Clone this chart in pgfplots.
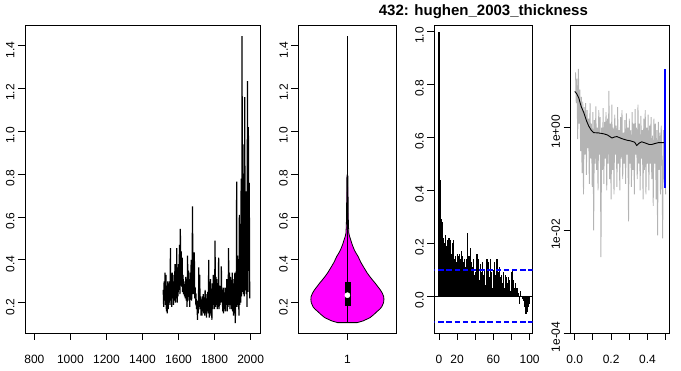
\documentclass[border=0pt]{standalone}
\usepackage{pgfplots}
\pgfplotsset{compat=1.18}
\usepackage{fontspec}
\setmainfont{Liberation Sans}
\definecolor{rgray}{RGB}{180,180,180}
\definecolor{rmag}{RGB}{255,0,255}
\definecolor{rblue}{RGB}{0,0,255}
\pgfplotsset{rstyle/.style={
  scale only axis, height=308pt,
  axis line style={line width=0.9pt},
  every tick/.style={black, line width=0.9pt},
  tick align=outside, major tick length=7pt,
  xtick pos=left, ytick pos=left,
  ticklabel style={font=\fontsize{12}{12}\selectfont},
  /pgf/number format/assume math mode=true,
  xticklabel style={yshift=-12pt},
  yticklabel style={rotate=90, anchor=south, xshift=-4pt},
  clip=true,
}}
\begin{document}
\begin{tikzpicture}[x=1pt,y=1pt]
\path[use as bounding box] (0,0) rectangle (681,371);
\node[font=\bfseries\fontsize{15}{15}\selectfont] at (483.4,359.5) {432: hughen\_2003\_thickness};

% Panel 1: time series
\begin{axis}[rstyle, at={(25pt,38pt)}, anchor=south west, width=235pt,
  xmin=748, xmax=2052, ymin=0.0585, ymax=1.497,
  xtick={800,1000,1200,1400,1600,1800,2000},
  xticklabels={800,1000,1200,1400,1600,1800,2000},
  ytick={0.2,0.4,0.6,0.8,1.0,1.2,1.4},
  yticklabels={0.2,0.4,0.6,0.8,1.0,1.2,1.4}]
\addplot[black, line width=1.2pt] table {
1515 0.26
1517.5 0.18
1520 0.30
1522.5 0.21
1525 0.34
1527.5 0.19
1530 0.33
1532.5 0.16
1535 0.28
1537.5 0.15
1540 0.30
1542.5 0.17
1545 0.29
1547.5 0.20
1550 0.30
1552.5 0.19
1555 0.455
1557.5 0.21
1560 0.33
1562.5 0.18
1565 0.34
1567.5 0.22
1570 0.30
1572.5 0.19
1575 0.33
1577.5 0.21
1580 0.38
1582.5 0.20
1585 0.30
1587.5 0.22
1590 0.455
1592.5 0.20
1595 0.36
1597.5 0.23
1600 0.38
1602.5 0.26
1605 0.47
1607.5 0.24
1610 0.545
1612.5 0.28
1615 0.44
1617.5 0.275
1620 0.41
1622.5 0.25
1625 0.33
1627.5 0.24
1630 0.30
1632.5 0.23
1635 0.28
1637.5 0.22
1640 0.32
1642.5 0.21
1645 0.30
1647.5 0.18
1650 0.42
1652.5 0.23
1655 0.35
1657.5 0.21
1660 0.31
1662.5 0.18
1665 0.34
1667.5 0.22
1670 0.40
1672.5 0.21
1675 0.30
1677.5 0.65
1680 0.24
1682.5 0.40
1685 0.24
1687.5 0.435
1690 0.22
1692.5 0.27
1695 0.21
1697.5 0.22
1700 0.17
1702.5 0.21
1705 0.12
1707.5 0.20
1710 0.15
1712.5 0.365
1715 0.18
1717.5 0.33
1720 0.17
1722.5 0.23
1725 0.14
1727.5 0.21
1730 0.14
1732.5 0.23
1735 0.16
1737.5 0.24
1740 0.15
1742.5 0.22
1745 0.14
1747.5 0.26
1750 0.15
1752.5 0.24
1755 0.13
1757.5 0.22
1760 0.16
1762.5 0.25
1765 0.15
1767.5 0.40
1770 0.13
1772.5 0.25
1775 0.15
1777.5 0.31
1780 0.14
1782.5 0.26
1785 0.12
1787.5 0.29
1790 0.17
1792.5 0.33
1795 0.19
1797.5 0.31
1800 0.17
1802.5 0.49
1805 0.18
1807.5 0.32
1810 0.19
1812.5 0.31
1815 0.17
1817.5 0.26
1820 0.18
1822.5 0.41
1825 0.17
1827.5 0.28
1830 0.19
1832.5 0.26
1835 0.20
1837.5 0.37
1840 0.21
1842.5 0.26
1845 0.16
1847.5 0.27
1850 0.15
1852.5 0.24
1855 0.17
1857.5 0.27
1860 0.16
1862.5 0.25
1865 0.19
1867.5 0.31
1870 0.16
1872.5 0.27
1875 0.18
1877.5 0.455
1880 0.19
1882.5 0.34
1885 0.17
1887.5 0.32
1890 0.19
1892.5 0.25
1895 0.17
1897.5 0.34
1900 0.16
1902.5 0.29
1905 0.14
1907.5 0.31
1910 0.15
1912.5 0.34
1915 0.105
1917.5 0.27
1920 0.18
1921 0.40
1922.5 0.765
1924 0.30
1925 0.19
1926 0.35
1927.5 0.42
1929 0.25
1930 0.18
1931 0.33
1932.5 0.36
1934 0.22
1935 0.14
1936 0.40
1937.5 0.61
1939 0.28
1940 0.19
1941 0.45
1942.5 0.36
1944 0.25
1945 0.20
1946 0.55
1947.5 0.78
1949 0.40
1950 0.23
1951 0.60
1952.5 1.445
1954 0.50
1955 0.25
1956 0.62
1957.5 0.94
1959 0.45
1960 0.24
1961 0.55
1962.5 0.70
1964 0.40
1965 0.23
1966 0.60
1967.5 1.16
1969 0.48
1970 0.26
1971 0.58
1972.5 0.68
1974 0.35
1975 0.24
1976 0.50
1977.5 0.72
1979 0.42
1980 0.18
1981 0.65
1982.5 1.235
1984 0.45
1985 0.25
1986 0.60
1987.5 1.02
1989 0.55
1990 0.39
1991 0.62
1992.5 0.76
1994 0.40
1995 0.22
};
\end{axis}

% Panel 2: violin
\begin{axis}[rstyle, at={(298.3pt,38pt)}, anchor=south west, width=98.2pt,
  xmin=0.5, xmax=1.5, ymin=0.0585, ymax=1.497,
  xtick={1}, xticklabels={1},
  ytick={0.2,0.4,0.6,0.8,1.0,1.2,1.4},
  yticklabels={0.2,0.4,0.6,0.8,1.0,1.2,1.4}]
\addplot[fill=rmag, draw=black, line width=0.8pt] coordinates {
(1.100,0.107)(1.160,0.115)(1.230,0.130)(1.270,0.145)(1.300,0.158)(1.330,0.170)
(1.350,0.181)(1.368,0.200)(1.372,0.215)(1.370,0.228)(1.355,0.245)(1.335,0.260)
(1.310,0.275)(1.285,0.290)(1.258,0.305)(1.230,0.321)(1.200,0.340)(1.163,0.368)
(1.135,0.390)(1.110,0.415)(1.090,0.430)(1.071,0.446)(1.050,0.470)(1.034,0.493)
(1.022,0.510)(1.015,0.524)(1.011,0.560)(1.009,0.600)(1.007,0.700)(1.005,0.790)
(1.000,0.800)
(0.995,0.790)(0.993,0.700)(0.991,0.600)(0.989,0.560)(0.985,0.524)(0.978,0.510)
(0.966,0.493)(0.950,0.470)(0.929,0.446)(0.910,0.430)(0.890,0.415)(0.865,0.390)
(0.837,0.368)(0.800,0.340)(0.770,0.321)(0.742,0.305)(0.715,0.290)(0.690,0.275)
(0.665,0.260)(0.645,0.245)(0.630,0.228)(0.628,0.215)(0.632,0.200)(0.650,0.181)
(0.670,0.170)(0.700,0.158)(0.730,0.145)(0.770,0.130)(0.840,0.115)(0.900,0.107)
} --cycle;
\addplot[black, line width=0.8pt] coordinates {(1,0.107)(1,1.445)};
\addplot[fill=black, draw=black] coordinates {(0.975,0.19)(1.025,0.19)(1.025,0.295)(0.975,0.295)} --cycle;
\addplot[only marks, mark=*, mark size=2.6pt, color=white] coordinates {(1,0.235)};
\end{axis}

% Panel 3: ACF
\begin{axis}[rstyle, at={(434.3pt,38pt)}, anchor=south west, width=98.4pt,
  xmin=-5.2, xmax=103.4, ymin=-0.14, ymax=1.025,
  xtick={0,20,40,60,80,100}, xticklabels={0,20,,60,,100},
  ytick={0,0.2,0.4,0.6,0.8,1.0},
  yticklabels={0.0,0.2,0.4,0.6,0.8,1.0}]
\addplot[ycomb, black, line width=1.2pt] table {
0 1.0
1 0.44
2 0.32
3 0.29
4 0.28
5 0.22
6 0.20
7 0.23
8 0.19
9 0.21
10 0.17
11 0.22
12 0.20
13 0.21
14 0.16
15 0.20
16 0.21
17 0.14
18 0.15
19 0.13
20 0.16
21 0.14
22 0.15
23 0.16
24 0.14
25 0.17
26 0.15
27 0.13
28 0.14
29 0.11
30 0.14
31 0.24
32 0.12
33 0.15
34 0.10
35 0.18
36 0.13
37 0.11
38 0.14
39 0.08
40 0.09
41 0.12
42 0.16
43 0.10
44 0.14
45 0.06
46 0.12
47 0.09
48 0.13
49 0.08
50 0.10
51 0.04
52 0.12
53 0.14
54 0.10
55 0.13
56 0.07
57 0.14
58 0.09
59 0.03
60 0.10
61 0.13
62 0.08
63 0.06
64 0.14
65 0.09
66 0.05
67 0.11
68 0.07
69 0.08
70 0.05
71 0.09
72 0.03
73 0.08
74 0.07
75 0.05
76 0.03
77 0.07
78 0.06
79 0.02
80 0.09
81 0.10
82 0.06
83 0.03
84 0.05
85 0.01
86 0.03
87 0.02
88 0.01
89 -0.03
90 0.02
91 0.00
92 -0.01
93 -0.02
94 -0.04
95 -0.04
96 -0.07
97 -0.06
98 -0.05
99 -0.04
100 -0.03
};
\addplot[black, line width=0.8pt] coordinates {(-10,0)(110,0)};
\addplot[color=rblue, line width=1.2pt, dash pattern=on 5.5pt off 2.7pt] coordinates {(-10,0.098)(110,0.098)};
\addplot[color=rblue, line width=1.3pt, dash pattern=on 5.5pt off 2.7pt] coordinates {(-10,-0.0985)(110,-0.0985)};
\end{axis}

% Panel 4: spectrum
\begin{axis}[rstyle, at={(570.5pt,38pt)}, anchor=south west, width=98.8pt,
  xmin=-0.0236, xmax=0.5205, ymode=log, ymin=1e-4, ymax=1e2,
  xtick={0,0.1,0.2,0.3,0.4,0.5}, xticklabels={0.0,,0.2,,0.4,},
  ytick={1e-4,1e-2,1}, yticklabels={1e-04,1e-02,1e+00},
  minor ytick={}, log basis y=10]
\addplot[rgray, line width=0.9pt] table {
0.004 12
0.008 3.0
0.012 9
0.016 0.6
0.020 14
0.024 1.2
0.028 5.5
0.032 0.35
0.036 4
0.040 0.13
0.044 3.2
0.048 0.05
0.052 2.5
0.056 0.3
0.060 3.0
0.064 0.12
0.068 2.2
0.072 0.4
0.076 1.5
0.080 0.08
0.084 3.0
0.088 0.25
0.092 1.2
0.096 0.07
0.100 2.0
0.104 0.01
0.108 1.4
0.112 0.2
0.116 2.6
0.120 0.15
0.124 1.0
0.128 0.06
0.132 2.2
0.136 0.3
0.140 1.6
0.144 0.003
0.148 1.0
0.152 0.15
0.156 2.4
0.160 0.08
0.164 1.3
0.168 0.25
0.172 2.0
0.176 0.06
0.180 1.5
0.184 0.2
0.188 5.2
0.192 0.1
0.196 1.2
0.200 0.04
0.204 2.8
0.208 0.15
0.212 1.0
0.216 0.05
0.220 1.8
0.224 0.3
0.228 1.1
0.232 0.07
0.236 2.5
0.240 0.2
0.244 0.9
0.248 0.06
0.252 1.6
0.256 0.25
0.260 2.2
0.264 0.1
0.268 0.8
0.272 0.2
0.276 1.4
0.280 0.08
0.284 1.9
0.288 0.3
0.292 1.0
0.296 0.015
0.300 1.5
0.304 0.2
0.308 0.9
0.312 0.07
0.316 2.0
0.320 0.15
0.324 1.2
0.328 0.05
0.332 2.3
0.336 0.3
0.340 1.0
0.344 0.1
0.348 2.8
0.352 0.2
0.356 1.2
0.360 0.06
0.364 1.7
0.368 0.25
0.372 0.9
0.376 0.04
0.380 1.5
0.384 0.15
0.388 2.2
0.392 0.05
0.396 1.0
0.400 0.2
0.404 1.8
0.408 0.06
0.412 1.1
0.416 0.2
0.420 1.6
0.424 0.1
0.428 0.7
0.432 0.03
0.436 1.5
0.440 0.2
0.444 1.2
0.448 0.04
0.452 0.9
0.456 0.008
0.460 1.3
0.464 0.15
0.468 0.8
0.472 0.05
0.476 1.1
0.480 0.2
0.484 0.007
0.488 0.9
0.492 0.1
0.496 1.0
0.500 0.05
};
\addplot[black, line width=0.9pt] table {
0.0 5.1
0.01 4.6
0.022 3.8
0.035 2.6
0.05 1.95
0.065 1.35
0.077 1.07
0.09 0.9
0.104 0.80
0.13 0.79
0.159 0.76
0.18 0.72
0.205 0.63
0.22 0.66
0.232 0.67
0.26 0.61
0.287 0.57
0.31 0.55
0.33 0.52
0.341 0.45
0.355 0.50
0.369 0.53
0.39 0.50
0.41 0.47
0.424 0.47
0.44 0.49
0.46 0.51
0.5 0.51
};
\addplot[color=rblue, line width=2pt] coordinates {(0.4985,0.068)(0.4985,14.2)};
\end{axis}
\end{tikzpicture}
\end{document}
